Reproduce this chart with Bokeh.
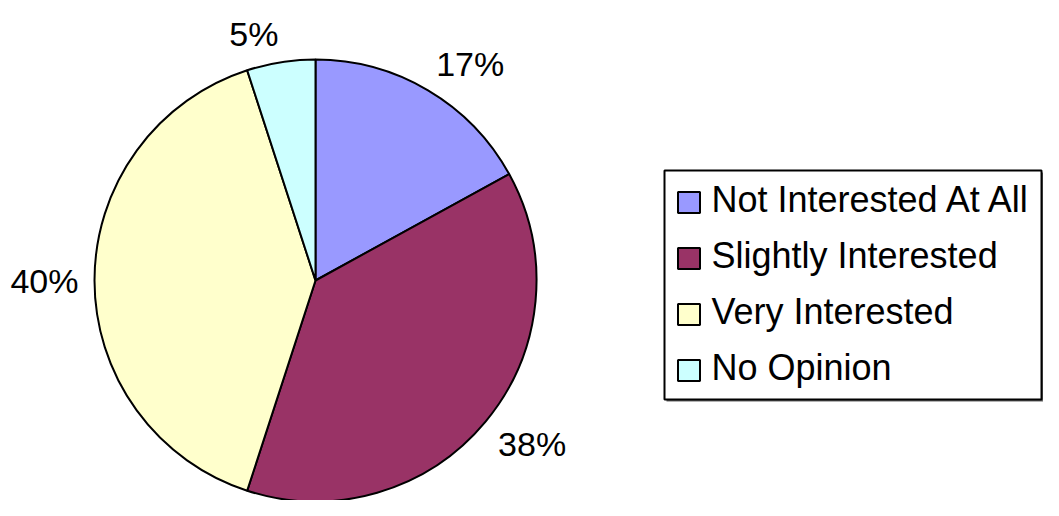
import math
from bokeh.plotting import figure
from bokeh.models import Range1d, ColumnDataSource
from bokeh.core.properties import value
from bokeh.embed import file_html
from bokeh.resources import INLINE

# ---- data ----
categories = ["Not Interested At All", "Slightly Interested", "Very Interested", "No Opinion"]
percents = [17, 38, 40, 5]
pct_labels = ["17%", "38%", "40%", "5%"]
colors = ["#9999FF", "#993366", "#FFFFCC", "#CCFFFF"]

W, H = 1043, 500
FONT = "Liberation Sans"
LABEL_FS = 34
LEGEND_FS = 36

p = figure(width=W, height=H, x_range=Range1d(0, W), y_range=Range1d(0, H),
           output_backend="svg", toolbar_location=None, min_border=0)
p.axis.visible = False
p.grid.visible = False
p.outline_line_color = None
p.background_fill_color = "white"
p.border_fill_color = "white"

# pie geometry
cx, cy, R = 315, 220, 221
total = sum(percents)
starts, ends, mids = [], [], []
cum = 0.0
for v in percents:
    a0 = math.pi / 2 - 2 * math.pi * (cum + v) / total
    a1 = math.pi / 2 - 2 * math.pi * cum / total
    starts.append(a0)
    ends.append(a1)
    mids.append((a0 + a1) / 2)
    cum += v

src = ColumnDataSource(dict(start=starts, end=ends, color=colors, cat=categories))
p.wedge(x=cx, y=cy, radius=R, start_angle="start", end_angle="end", direction="anticlock",
        fill_color="color", line_color="black", line_width=2, source=src)

# percentage labels outside: nearest corner of the text box sits on a ring
def sgn(v, tol=0.05):
    return 0 if abs(v) < tol else (1 if v > 0 else -1)

lr = 237
lx, ly = [], []
for m, t in zip(mids, pct_labels):
    c, s = math.cos(m), math.sin(m)
    w = LABEL_FS * (0.556 * (len(t) - 1) + 0.889)
    h = LABEL_FS * 0.72
    lx.append(cx + lr * c + sgn(c) * w / 2)
    ly.append(cy + lr * s + sgn(s) * h / 2)
p.text(x=lx, y=ly, text=pct_labels, text_align="center", text_baseline="middle",
       text_font=value(FONT), text_font_size=f"{LABEL_FS}px", text_color="black")

# legend (manual)
box_l, box_r, box_t, box_b = 664, 1041, 330, 101
p.quad(left=[box_l + 2], right=[box_r + 2], top=[box_t - 2], bottom=[box_b - 2],
       fill_color="#666666", line_color=None)
p.quad(left=[box_l], right=[box_r], top=[box_t], bottom=[box_b],
       fill_color="white", line_color="black", line_width=2)
n = len(categories)
row_h = 56
sy = [box_t - 32 - i * row_h for i in range(n)]
sx = [box_l + 24.5] * n
p.rect(x=sx, y=sy, width=22, height=21, fill_color=colors, line_color="black", line_width=2)
p.text(x=[box_l + 47] * n, y=[y + 3 for y in sy], text=categories, text_align="left",
       text_baseline="middle", text_font=value(FONT), text_font_size=f"{LEGEND_FS}px",
       text_color="black")

open("out.html", "w").write(file_html(p, INLINE))
